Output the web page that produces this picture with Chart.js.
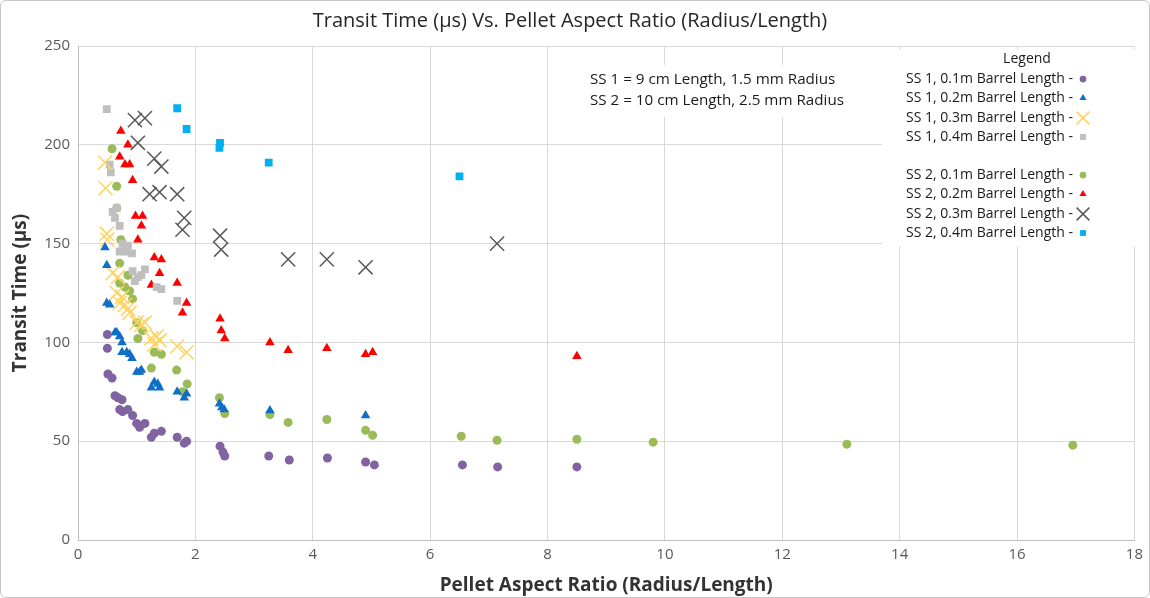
<!DOCTYPE html>
<html>
<head>
<meta charset="utf-8">
<script src="https://cdn.jsdelivr.net/npm/chart.js"></script>
<style>
  html, body { margin: 0; padding: 0; background: #fff; }
  #wrap { width: 1148px; height: 596px; border: 1px solid #c8c8c8; border-radius: 6px; overflow: hidden; }
</style>
</head>
<body>
<div id="wrap"><canvas id="transitChart" width="1148" height="596"></canvas></div>
<script>
// x = pellet aspect ratio, y = transit time (us)
var xTicks = [0, 2, 4, 6, 8, 10, 12, 14, 16, 18];
var yTicks = [0, 50, 100, 150, 200, 250];

var ss1_01_x = [0.5, 0.5, 0.51, 0.58, 0.63, 0.68, 0.75, 0.71, 0.76, 0.85, 0.93, 1.0, 1.05, 1.14, 1.25, 1.3, 1.42, 1.69, 1.81, 1.85, 2.42, 2.47, 2.5, 3.25, 3.6, 4.25, 4.9, 5.05, 6.55, 7.15, 8.5];
var ss1_01_y = [104, 97, 84, 82, 73, 72, 71, 66, 65, 66, 63, 59, 57, 59, 52, 54, 55, 52, 49, 50, 47.5, 44.5, 42.5, 42.5, 40.5, 41.5, 39.5, 38, 38, 37, 37];

var ss1_02_x = [0.46, 0.49, 0.49, 0.54, 0.63, 0.66, 0.71, 0.75, 0.75, 0.83, 0.88, 0.92, 1.0, 1.05, 1.08, 1.25, 1.3, 1.36, 1.39, 1.69, 1.81, 1.85, 2.41, 2.45, 2.49, 3.27, 4.9];
var ss1_02_y = [148, 139, 120, 119, 105, 105, 103, 100, 95, 95, 94, 92, 85, 85, 86, 77, 80, 79, 77, 75, 72, 74, 69, 67, 66, 65.5, 63];

var ss1_03_x = [0.46, 0.47, 0.49, 0.5, 0.59, 0.68, 0.66, 0.71, 0.75, 0.8, 0.85, 0.88, 1.0, 1.08, 1.14, 1.25, 1.3, 1.34, 1.39, 1.69, 1.85];
var ss1_03_y = [191, 178, 155, 152, 135, 133, 125, 120, 123, 119, 117, 115, 110, 109, 110, 102, 99, 103, 101, 98, 95];

var ss1_04_x = [0.49, 0.54, 0.56, 0.59, 0.63, 0.66, 0.71, 0.71, 0.76, 0.8, 0.85, 0.92, 0.93, 0.97, 1.02, 1.08, 1.14, 1.34, 1.42, 1.69];
var ss1_04_y = [218, 190, 186, 166, 163, 168, 159, 146, 150, 146, 149, 145, 136, 131, 133, 134, 137, 128, 127, 121];

var ss2_01_x = [0.58, 0.66, 0.66, 0.73, 0.71, 0.71, 0.85, 0.8, 0.88, 0.93, 1.0, 1.1, 1.02, 1.3, 1.42, 1.25, 1.68, 1.86, 1.78, 2.41, 2.5, 3.27, 3.58, 4.24, 4.9, 5.02, 6.53, 7.14, 8.5, 9.8, 13.1, 16.95];
var ss2_01_y = [198, 179, 168, 152, 140, 130, 134, 128, 126, 122, 110, 106, 102, 95, 94, 87, 86, 79, 75, 72, 64, 63.5, 59.5, 61, 55.5, 53, 52.5, 50.5, 51, 49.5, 48.5, 48];

var ss2_02_x = [0.73, 0.85, 0.71, 0.8, 0.88, 0.93, 0.98, 1.1, 1.08, 1.02, 1.3, 1.42, 1.39, 1.25, 1.69, 1.85, 1.78, 2.42, 2.44, 2.5, 3.27, 3.58, 4.24, 4.9, 5.02, 8.5];
var ss2_02_y = [207, 200, 194, 190, 190, 182, 164, 164, 159, 152, 143, 142, 135, 129, 130, 120, 115, 112, 106, 102, 100, 96, 97, 94, 95, 93];

var ss2_03_x = [0.97, 1.14, 1.02, 1.3, 1.42, 1.22, 1.39, 1.69, 1.81, 1.78, 2.42, 2.44, 3.58, 4.24, 4.9, 7.14];
var ss2_03_y = [212.5, 213.5, 201, 193, 189, 175, 176, 175, 163, 157, 154, 147, 142, 142, 138, 150];

var ss2_04_x = [1.69, 1.85, 2.42, 2.41, 3.25, 6.5];
var ss2_04_y = [218.5, 208, 201, 198.5, 191, 184];

var noteLines = ['SS 1 = 9 cm Length, 1.5 mm Radius', 'SS 2 = 10 cm Length, 2.5 mm Radius'];

function pts(xs, ys) {
    return xs.map(function (x, i) { return { x: x, y: ys[i] }; });
}

function series(label, xs, ys, color, style, radius, hollow) {
    return {
        label: label,
        data: pts(xs, ys),
        pointStyle: style,
        pointRadius: radius,
        pointHoverRadius: radius,
        backgroundColor: hollow ? 'rgba(0,0,0,0)' : color,
        borderColor: color,
        pointBorderWidth: hollow ? 1.5 : 0,
        showLine: false
    };
}

var datasets = [
    series('SS 1, 0.1m Barrel Length -', ss1_01_x, ss1_01_y, '#8064a2', 'circle', 4.5),
    series('SS 1, 0.2m Barrel Length -', ss1_02_x, ss1_02_y, '#0f6fc6', 'triangle', 5.5),
    series('SS 1, 0.3m Barrel Length -', ss1_03_x, ss1_03_y, '#ffd35c', 'crossRot', 10, true),
    series('SS 1, 0.4m Barrel Length -', ss1_04_x, ss1_04_y, '#bfbfbf', 'rect', 5.5),
    series('SS 2, 0.1m Barrel Length -', ss2_01_x, ss2_01_y, '#9bbb59', 'circle', 4.5),
    series('SS 2, 0.2m Barrel Length -', ss2_02_x, ss2_02_y, '#ff0000', 'triangle', 5.5),
    series('SS 2, 0.3m Barrel Length -', ss2_03_x, ss2_03_y, '#595959', 'crossRot', 10, true),
    series('SS 2, 0.4m Barrel Length -', ss2_04_x, ss2_04_y, '#00b0f0', 'rect', 5.5)
];

// white boxes with the note and the legend, drawn over the grid
var boxesPlugin = {
    id: 'boxes',
    afterDatasetsDraw: function (chart) {
        var ctx = chart.ctx;
        ctx.save();
        ctx.fillStyle = '#ffffff';
        ctx.fillRect(579, 64, 272, 52);
        ctx.fillRect(881, 49, 257, 196);

        ctx.fillStyle = '#1a1a1a';
        ctx.textBaseline = 'middle';
        ctx.textAlign = 'left';
        ctx.font = '15.2px "Open Sans"';
        ctx.fillText(noteLines[0], 589, 79);
        ctx.fillText(noteLines[1], 589, 100);

        ctx.textAlign = 'center';
        ctx.font = '14px "Open Sans"';
        ctx.fillText('Legend', 1026, 58);

        var rows = [78, 97, 117, 136, 174, 193, 213, 232];
        ctx.textAlign = 'right';
        datasets.forEach(function (ds, i) {
            var y = rows[i];
            ctx.fillStyle = '#1a1a1a';
            ctx.fillText(ds.label, 1072, y);
            var r = ds.pointStyle === 'crossRot' ? 9 : ds.pointRadius * 0.75;
            var opts = {
                pointStyle: ds.pointStyle,
                radius: r,
                rotation: 0,
                borderWidth: ds.pointBorderWidth
            };
            ctx.fillStyle = ds.backgroundColor;
            ctx.strokeStyle = ds.borderColor;
            ctx.lineWidth = ds.pointBorderWidth;
            Chart.helpers.drawPoint(ctx, opts, 1082, y);
        });
        ctx.restore();
    }
};

var ctx1 = document.getElementById('transitChart').getContext('2d');
var transitChart = new Chart(ctx1, {
    type: 'scatter',
    data: { datasets: datasets },
    plugins: [boxesPlugin],
    options: {
        responsive: false,
        animation: false,
        events: [],
        layout: { padding: { left: 0, right: 10, top: 0, bottom: 0 } },
        plugins: {
            legend: { display: false },
            tooltip: { enabled: false },
            title: {
                display: true,
                text: 'Transit Time (\u00b5s) Vs. Pellet Aspect Ratio (Radius/Length)',
                color: '#262626',
                font: { family: 'Open Sans', size: 20, weight: 'normal', lineHeight: 1.2 },
                padding: { top: 8, bottom: 13 }
            }
        },
        scales: {
            x: {
                type: 'linear',
                min: 0,
                max: 18,
                afterBuildTicks: function (s) { s.ticks = xTicks.map(function (v) { return { value: v }; }); },
                afterFit: function (s) { s.height = 57; },
                grid: { color: '#d9d9d9', drawTicks: false },
                border: { color: '#bfbfbf' },
                ticks: { color: '#595959', padding: 6, font: { family: 'Open Sans', size: 15 } },
                title: {
                    display: true,
                    text: 'Pellet Aspect Ratio (Radius/Length)',
                    color: '#333333',
                    font: { family: 'Open Sans', size: 19, weight: 'bold', lineHeight: 1.2 },
                    padding: { top: 0, bottom: 0 }
                }
            },
            y: {
                type: 'linear',
                min: 0,
                max: 250,
                afterBuildTicks: function (s) { s.ticks = yTicks.map(function (v) { return { value: v }; }); },
                afterFit: function (s) { s.width = 77; },
                grid: { color: '#d9d9d9', drawTicks: false },
                border: { color: '#bfbfbf' },
                ticks: { color: '#595959', padding: 8, font: { family: 'Open Sans', size: 15 } },
                title: {
                    display: true,
                    text: 'Transit Time (\u00b5s)',
                    color: '#333333',
                    font: { family: 'Open Sans', size: 19, weight: 'bold', lineHeight: 1.2 },
                    padding: { top: 8, bottom: 0 }
                }
            }
        }
    }
});
</script>
</body>
</html>
